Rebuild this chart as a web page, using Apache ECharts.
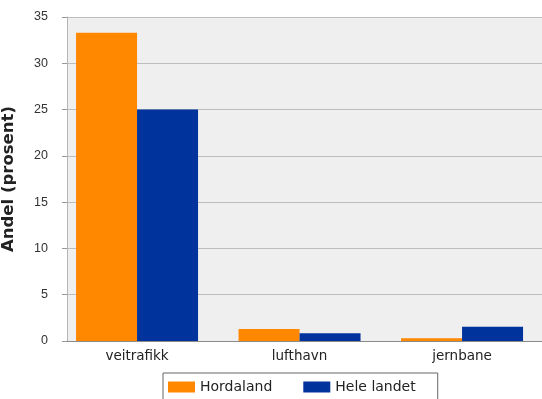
<!DOCTYPE html>
<html><head><meta charset="utf-8">
<script src="https://cdn.jsdelivr.net/npm/echarts@6/dist/echarts.min.js"></script>
<style>html,body{margin:0;padding:0;background:#fff}#c{width:542px;height:399px}</style>
</head><body><div id="c"></div>
<script>
const categories = ['veitrafikk', 'lufthavn', 'jernbane'];
const seriesNames = ['Hordaland', 'Hele landet'];
const hordaland = [33.3, 1.3, 0.3];
const heleLandet = [25.0, 0.85, 1.55];
const yTicks = [0, 5, 10, 15, 20, 25, 30, 35];

const chart = echarts.init(document.getElementById('c'), null, {renderer: 'canvas'});
const toPts = arr => arr.map((v, i) => [i, v]);
chart.setOption({
  animation: false,
  backgroundColor: '#ffffff',
  grid: {left: 67, right: 0, top: 17, bottom: 58, show: true, backgroundColor: '#efefef', borderWidth: 0,
         containLabel: false, outerBoundsMode: 'none'},
  xAxis: {
    type: 'value', min: -0.431, max: 2.492,
    axisLine: {show: true, onZero: false, lineStyle: {color: '#8a8a8a', width: 1}},
    axisTick: {show: false},
    splitLine: {show: false},
    axisLabel: {
      customValues: categories.map((c, i) => i),
      formatter: v => categories[Math.round(v)] || '',
      color: '#222', fontFamily: 'DejaVu Sans', fontSize: 13.5, margin: 8
    }
  },
  yAxis: {
    type: 'value', min: yTicks[0], max: yTicks[yTicks.length - 1], interval: 5,
    name: 'Andel (prosent)', nameLocation: 'middle', nameRotate: 90, nameGap: 50,
    nameTextStyle: {fontFamily: 'DejaVu Sans', fontWeight: 'bold', fontSize: 16.5, color: '#222'},
    axisLine: {show: true, onZero: false, lineStyle: {color: '#b5b5b5'}},
    axisTick: {show: true, length: 5, lineStyle: {color: '#999'}},
    axisLabel: {color: '#333', fontFamily: 'Liberation Sans', fontSize: 12.5, margin: 19},
    splitLine: {show: true, lineStyle: {color: '#bdbdbd', width: 1}}
  },
  legend: {
    data: seriesNames, left: 163, top: 373, icon: 'rect',
    itemWidth: 27, itemHeight: 11, itemGap: 31,
    padding: [7, 22, 12, 5],
    borderColor: '#666', borderWidth: 1, backgroundColor: '#fff',
    textStyle: {fontFamily: 'DejaVu Sans', fontSize: 14, color: '#222'}
  },
  series: [
    {name: seriesNames[0], type: 'bar', data: toPts(hordaland), barWidth: 61, barGap: '0%', itemStyle: {color: '#ff8800'}},
    {name: seriesNames[1], type: 'bar', data: toPts(heleLandet), barWidth: 61, barGap: '0%', itemStyle: {color: '#00339c'}}
  ]
});
</script>
</body></html>
